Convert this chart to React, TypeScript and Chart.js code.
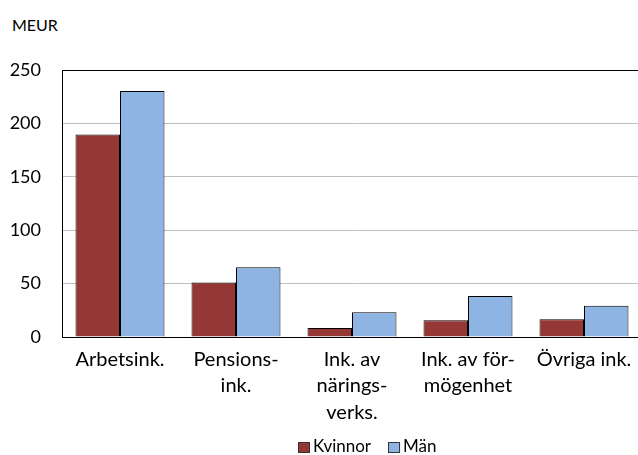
import React, { useEffect, useRef } from "react";
import { Chart, registerables } from "chart.js";

Chart.register(...registerables);

const categories: string[][] = [
  ["Arbetsink."],
  ["Pensions-", "ink."],
  ["Ink. av", "närings-", "verks."],
  ["Ink. av för-", "mögenhet"],
  ["Övriga ink."],
];
const kvinnor = [189.5, 51, 8.4, 15.6, 16.6];
const man = [230.3, 65.3, 23.1, 38.4, 29.3];
const yTicks = [0, 50, 100, 150, 200, 250];

const FONT = "Lato, 'Open Sans', sans-serif";

const borderPlugin = {
  id: "plotBorder",
  afterDraw(chart: any) {
    const { ctx, chartArea } = chart;
    ctx.save();
    ctx.strokeStyle = "#000";
    ctx.lineWidth = 1;
    ctx.strokeRect(
      Math.round(chartArea.left) + 0.5,
      Math.round(chartArea.top) + 0.5,
      Math.round(chartArea.right - chartArea.left),
      Math.round(chartArea.bottom - chartArea.top)
    );
    ctx.restore();
  },
};

const legendPlugin = {
  id: "customLegend",
  afterDraw(chart: any) {
    const { ctx } = chart;
    const ds = chart.data.datasets;
    ctx.save();
    ctx.font = `17px ${FONT}`;
    ctx.textBaseline = "middle";
    ctx.textAlign = "left";
    const box = 12;
    const gapText = 3;
    const gapItem = 17;
    const widths = ds.map((d: any) => ctx.measureText(d.label).width);
    let total = 0;
    widths.forEach((w: number, i: number) => {
      total += box + gapText + w + (i < widths.length - 1 ? gapItem : 0);
    });
    let x = Math.round(367 - total / 2);
    const cy = 447;
    ds.forEach((d: any, i: number) => {
      ctx.fillStyle = d.backgroundColor;
      ctx.fillRect(x, cy - 5, box, 11);
      ctx.strokeStyle = "#333";
      ctx.lineWidth = 1;
      ctx.strokeRect(x + 0.5, cy - 4.5, box - 1, 10);
      ctx.fillStyle = "#000";
      ctx.fillText(d.label, x + box + gapText, cy);
      x += box + gapText + widths[i] + gapItem;
    });
    ctx.restore();
  },
};

export default function App() {
  const ref = useRef<HTMLCanvasElement>(null);
  useEffect(() => {
    if (!ref.current) return;
    const chart = new Chart(ref.current, {
      type: "bar",
      data: {
        labels: categories,
        datasets: [
          {
            label: "Kvinnor",
            data: kvinnor,
            backgroundColor: "#953735",
            borderColor: "#000",
            borderWidth: 1,
          },
          {
            label: "Män",
            data: man,
            backgroundColor: "#8EB4E3",
            borderColor: "#000",
            borderWidth: 1,
          },
        ],
      },
      plugins: [borderPlugin, legendPlugin],
      options: {
        animation: false,
        responsive: false,
        maintainAspectRatio: false,
        layout: { padding: { top: 70, right: 0, left: 0, bottom: 0 } },
        datasets: { bar: { barPercentage: 1, categoryPercentage: 0.767 } },
        plugins: {
          tooltip: { enabled: false },
          legend: { display: false },
        },
        scales: {
          x: {
            afterFit(scale: any) {
              scale.height = 118;
            },
            grid: { display: false, drawTicks: false },
            border: { display: true, color: "#000" },
            ticks: {
              font: { family: FONT, size: 20, lineHeight: 1.33 },
              color: "#000",
              padding: 9,
              maxRotation: 0,
              autoSkip: false,
            },
          },
          y: {
            min: 0,
            max: 250,
            afterFit(scale: any) {
              scale.width = 62;
            },
            afterBuildTicks(scale: any) {
              scale.ticks = yTicks.map((v) => ({ value: v }));
            },
            grid: { color: "#BFBFBF", drawTicks: false, lineWidth: 1 },
            border: { display: true, color: "#000" },
            ticks: {
              font: { family: FONT, size: 18 },
              color: "#000",
              padding: 21,
            },
          },
        },
      },
    });
    return () => chart.destroy();
  }, []);
  return (
    <div style={{ position: "absolute", left: 0, top: 0, width: 638, height: 455, background: "#fff", overflow: "hidden" }}>
      <div
        style={{
          position: "absolute",
          left: 12,
          top: 15,
          fontFamily: FONT,
          fontSize: 16,
          color: "#000",
        }}
      >
        MEUR
      </div>
      <canvas ref={ref} width={642} height={455} style={{ position: "absolute", left: 0, top: 0 }} />
    </div>
  );
}
